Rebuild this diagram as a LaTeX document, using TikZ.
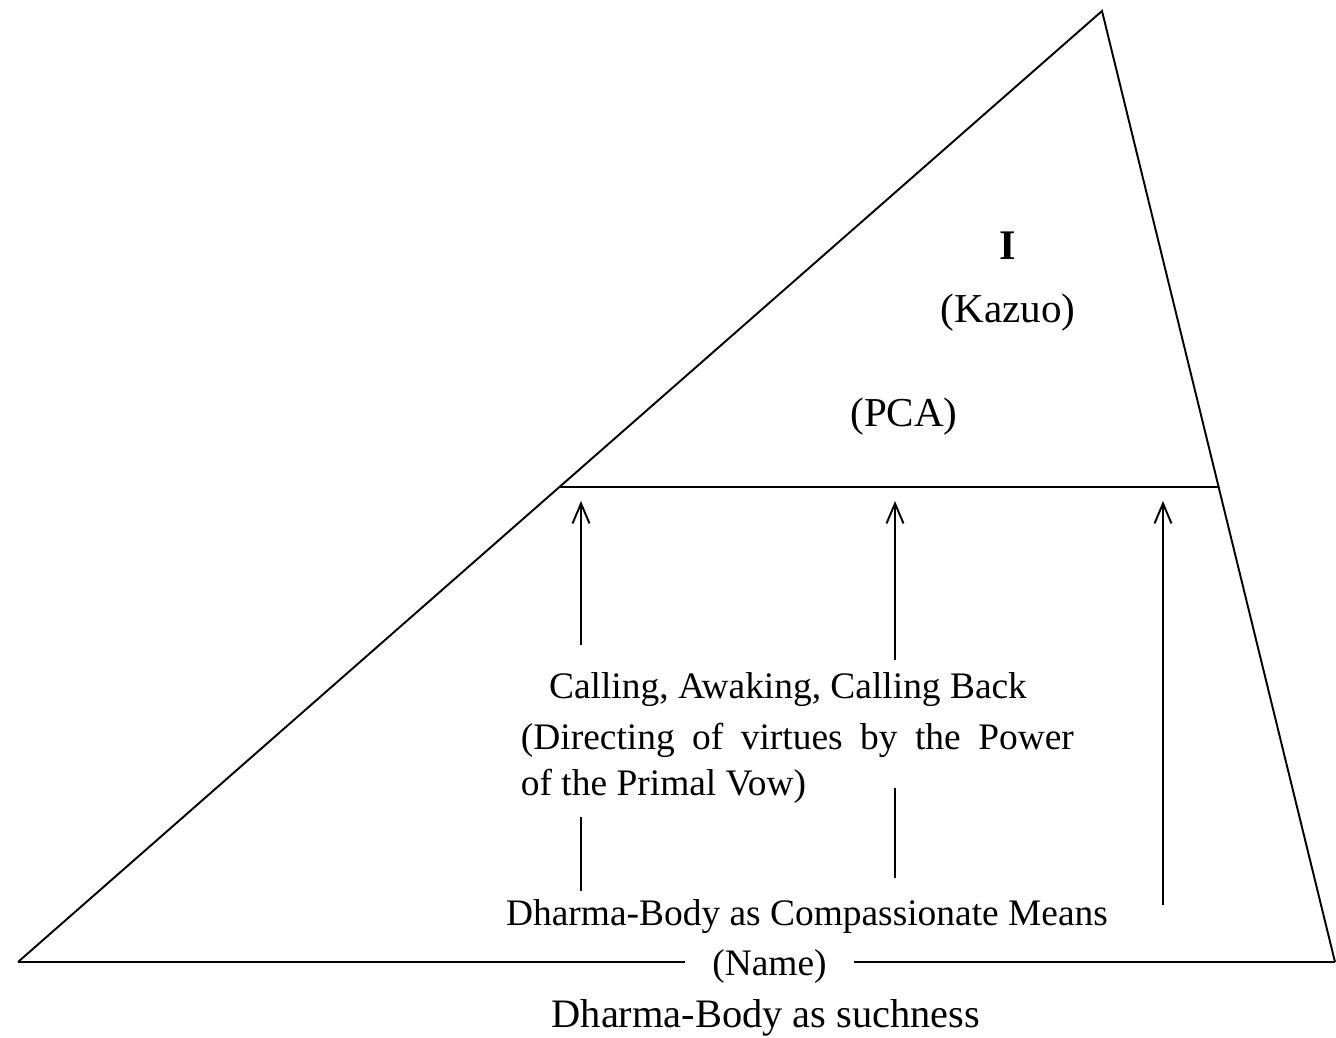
\documentclass[tikz,border=0pt]{standalone}
\usepackage{fontspec}
\setmainfont{Liberation Serif}
\usetikzlibrary{calc,arrows.meta}

\begin{document}
\begin{tikzpicture}[x=0.02cm, y=-0.02cm, line width=1.1pt]
        \tikzset{txt/.style={inner sep=0pt, anchor=base, font=\fontsize{21.3}{26}\selectfont},
            big/.style={txt, font=\fontsize{23.4}{28}\selectfont},
            up/.style={-{Straight Barb[length=4mm, width=3.4mm]}}}
        \useasboundingbox (0,0) rectangle (1336,1038);
        % triangle
        \coordinate (apex) at (1102,11);
        \coordinate (left) at (18,962);
        \coordinate (right) at (1335,962);
        \coordinate (pcaL) at ($(left)!.4995!(apex)$);
        \coordinate (pcaR) at ($(right)!.4995!(apex)$);
        % labels
        \node[txt, font=\bfseries\fontsize{24}{28}\selectfont] (self) at (1008,259) {I};
        \node[big] (kazuo) at (1008,322) {(Kazuo)};
        \node[big] (pca) at (904,426) {(PCA)};
        \node[txt] (calling) at (788,698) {Calling, Awaking, Calling Back};
        \node[txt, anchor=base west, align=left] (vow) at (520,795)
            {\makebox[11.06cm][s]{(Directing of virtues by the Power}\\[-.2pt]of the Primal Vow)};
        \node[txt] (means) at (807,925) {Dharma-Body as Compassionate Means};
        \node[txt, inner xsep=0.52cm] (name) at (769.5,975) {(Name)};
        \node[big, font=\fontsize{23}{28}\selectfont] (such) at (766,1027) {Dharma-Body as suchness};
        \draw (left) -- (apex) -- (right);
        \draw (left) -- (left -| name.west);
        \draw (right) -- (right -| name.east);
        \draw (pcaL) -- (pcaR);
        % arrows up to the PCA line
        \coordinate (tailA) at (581,645);
        \coordinate (tailB) at (895,660);
        \coordinate (tailC) at (1163,905);
        \draw[up] (tailA) -- (tailA |- 0,501);
        \draw[up] (tailB) -- (tailB |- 0,501);
        \draw[up] (tailC) -- (tailC |- 0,501);
        % stubs from the Name
        \coordinate (stubA) at (581,817);
        \coordinate (stubB) at (895,788);
        \draw (stubA) -- (stubA |- 0,891);
        \draw (stubB) -- (stubB |- 0,878);
    \end{tikzpicture}
\end{document}
